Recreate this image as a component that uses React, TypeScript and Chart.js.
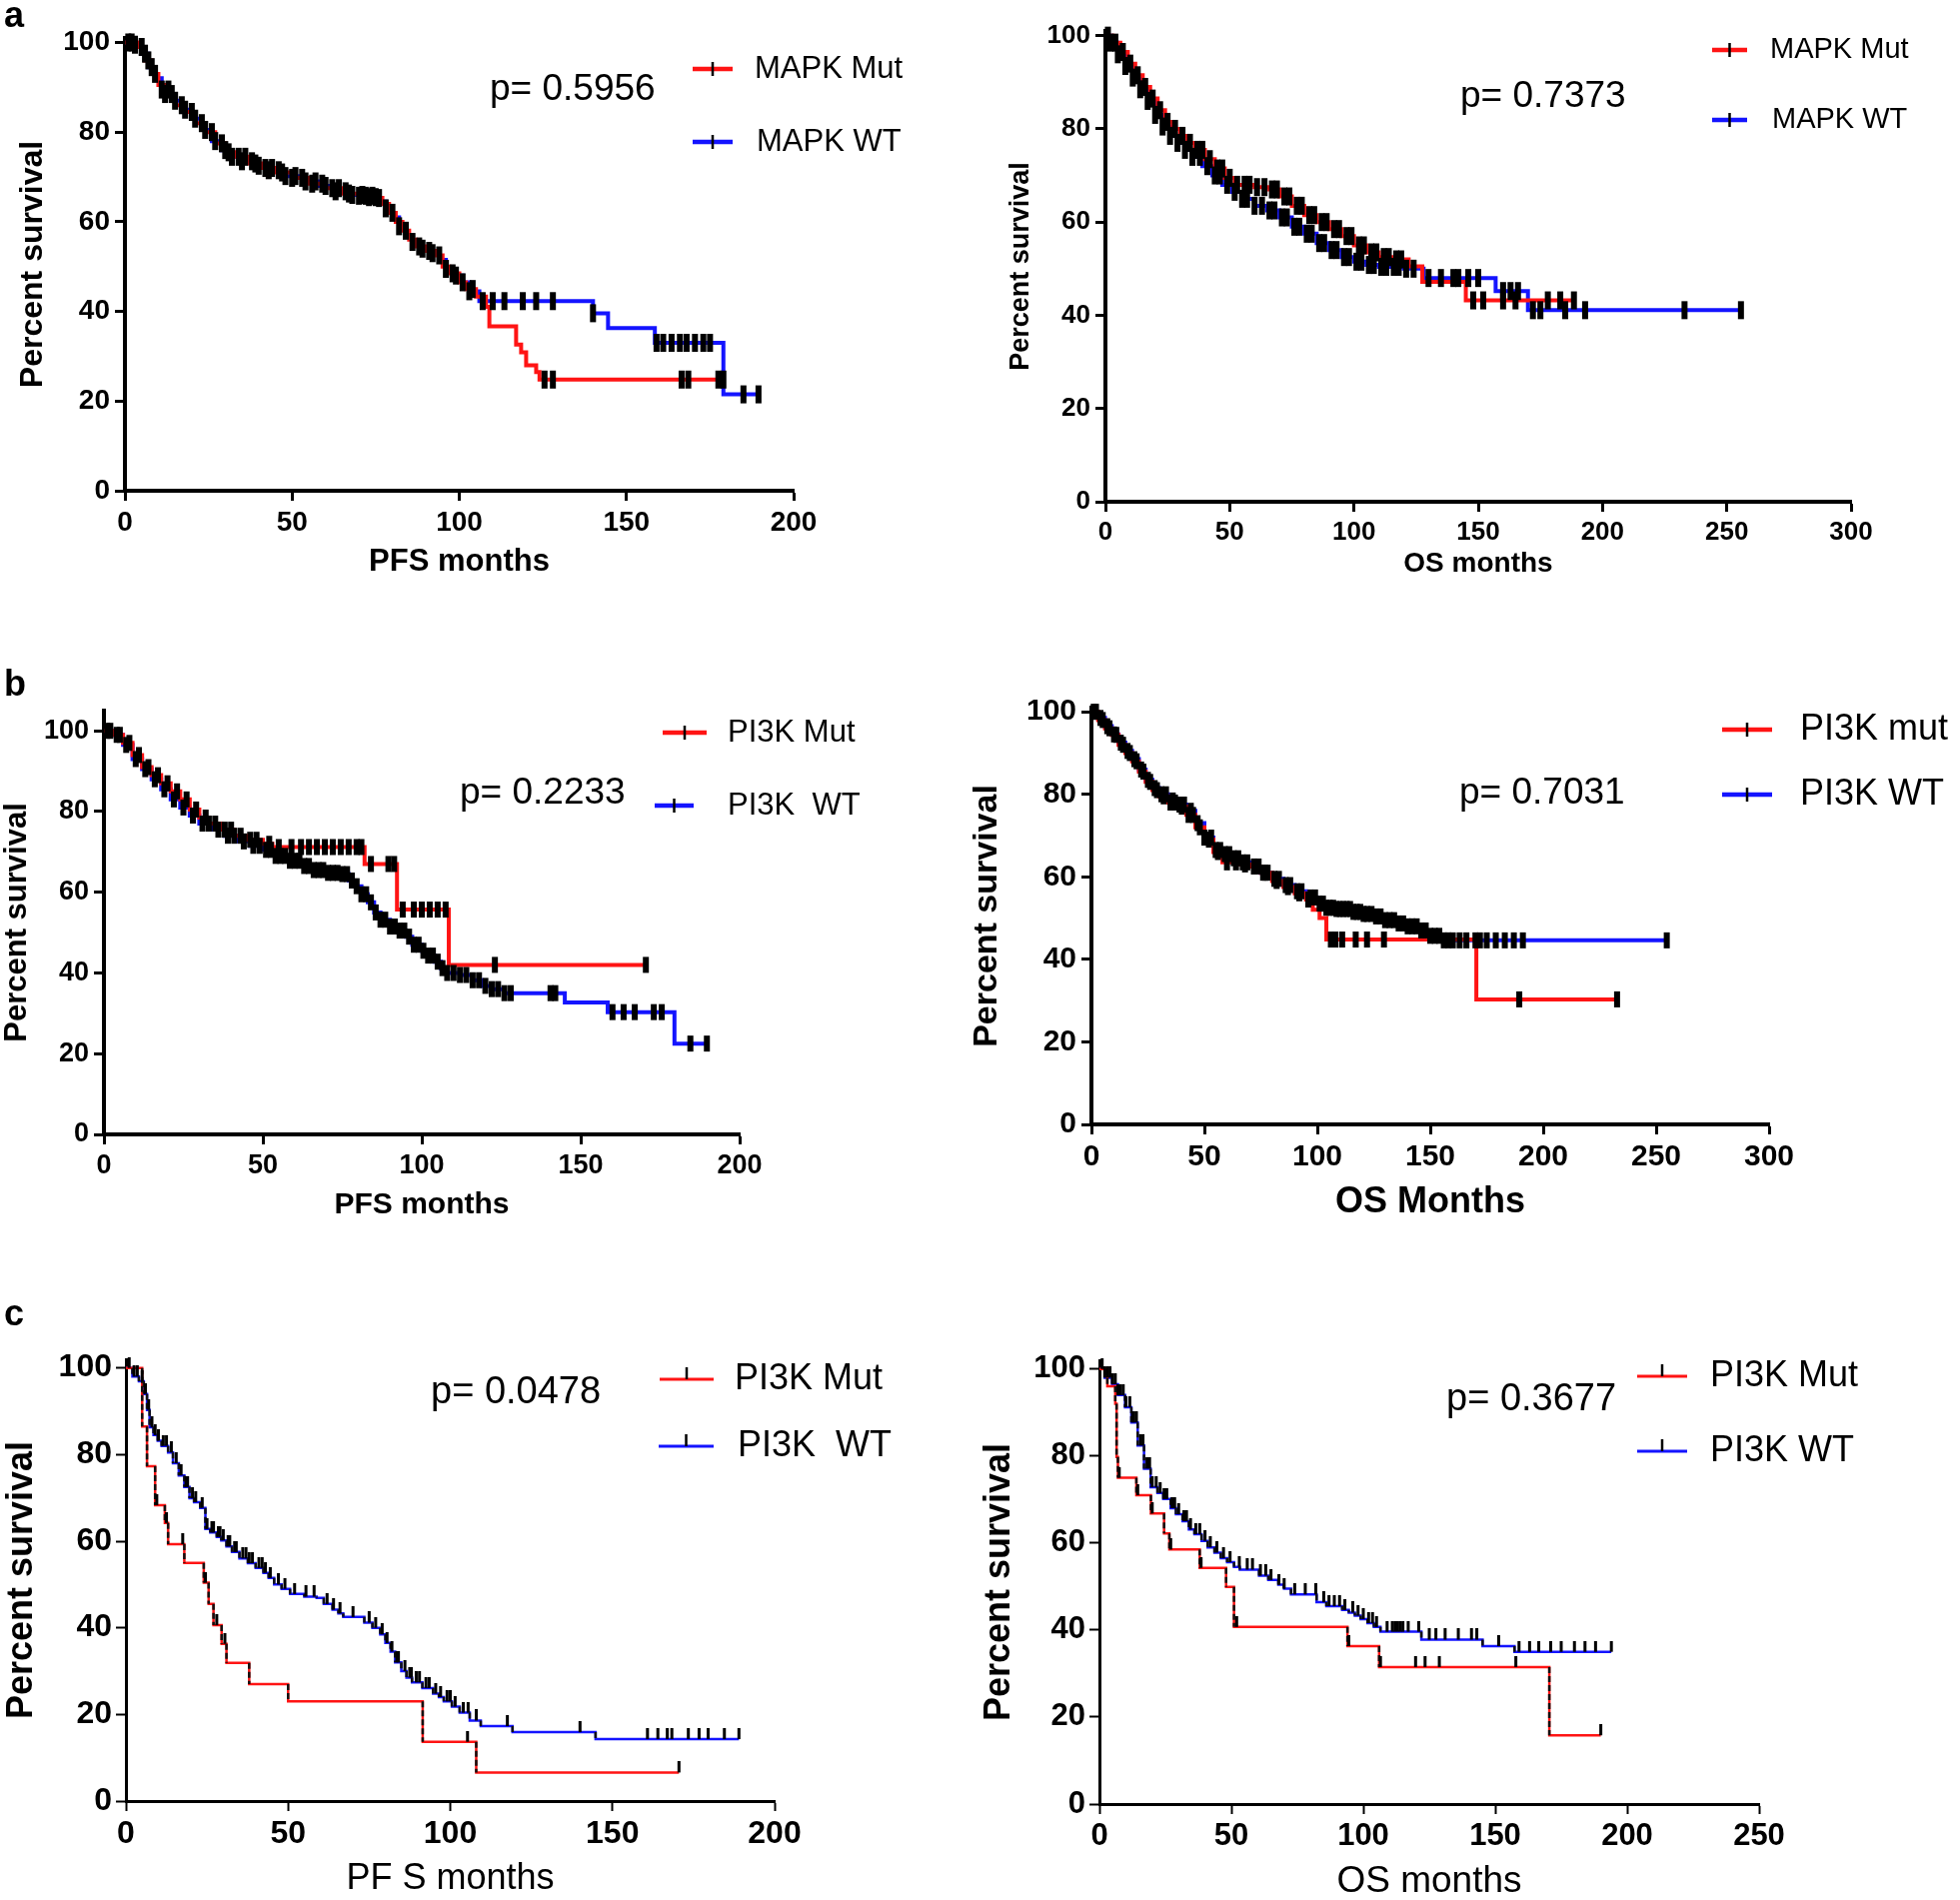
import React, { useEffect, useRef } from "react";
import { Chart, registerables } from "chart.js";

Chart.register(...registerables);

const FONT = "'Liberation Sans', Arial, Helvetica, sans-serif";
const RED = "#ff1414";
const BLUE = "#1414ff";

// ---------------- Panel a (left): MAPK, PFS ----------------
const aPfsMutT = [0, 4, 6, 8, 10, 12, 15, 18, 21, 24, 27, 30, 33, 37, 41, 45, 50, 55, 60, 65, 70, 75, 77, 79, 81, 83, 85, 87, 90, 93, 95, 97, 100, 102, 105, 108, 109, 117, 118.5, 120, 123, 124, 179];
const aPfsMutS = [100, 99, 96, 93, 90.5, 88.5, 86, 84.5, 82, 80, 77.5, 75.5, 74.5, 73, 72, 71, 69.8, 68.5, 67.5, 66.3, 65.8, 65.3, 64, 62, 60, 58, 56, 54.5, 53.5, 52.5, 50, 48.5, 46.5, 45, 43.3, 41, 36.7, 32.6, 30.9, 28, 26.5, 24.8, 24.8];
const aPfsMutC = [2, 5, 7, 9, 12, 14, 17, 20, 23, 26, 29, 31, 34, 36, 39, 42, 44, 47, 50, 53, 56, 59, 62, 64, 67, 70, 72, 74, 76, 80, 84, 88, 91, 94, 98, 101, 104, 125.5, 128, 166.5, 168.5, 177.5, 179];
const aPfsWtT = [0, 3, 5, 7, 9, 11, 14, 17, 20, 23, 26, 29, 32, 35, 39, 43, 48, 53, 58, 63, 68, 73, 76, 78, 80, 82, 84, 86, 88, 91, 94, 96, 98, 101, 103, 106, 140, 144.5, 158.5, 179, 189.5];
const aPfsWtS = [100, 99.5, 97.5, 94.5, 92, 89.5, 87, 85, 83, 80.5, 78, 76, 74.5, 73.5, 72.5, 71.5, 70.2, 69, 68, 66.8, 66, 65.5, 64.5, 63, 61, 59, 57, 55.5, 54, 53, 51.5, 49.5, 48, 46.5, 44.5, 42.3, 39.6, 36.3, 33, 21.5, 21.5];
const aPfsWtC = [1, 3, 6, 8, 11, 13, 15, 18, 21, 24, 27, 30, 32, 35, 38, 40, 43, 46, 48, 51, 54, 57, 60, 63, 66, 68, 71, 73, 75, 78, 82, 86, 89, 92, 96, 99, 103, 107, 110, 113.5, 119, 123, 128, 140, 159, 161, 163.5, 166, 168, 170.5, 173, 175, 185, 189.5];

// ---------------- Panel a (right): MAPK, OS ----------------
const aOsMutT = [0, 3, 6, 9, 12, 15, 18, 21, 24, 27, 30, 33, 36, 40, 44, 48, 52, 60, 66, 70, 75, 80, 85, 90, 95, 100, 105, 110, 115, 122, 127.5, 145, 188.5];
const aOsMutS = [100, 98.5, 96.5, 94, 91.5, 89, 86.5, 84, 81.5, 80, 78.5, 77, 75.5, 73.5, 71.5, 69.5, 68, 67.5, 67, 65.5, 63.5, 61.5, 60, 58.5, 57, 55, 53.5, 52.5, 52, 50.5, 47.2, 43.2, 43.2];
const aOsMutC = [1, 4, 7, 10, 13, 16, 19, 22, 25, 28, 31, 34, 37, 39, 42, 45, 47, 50, 53, 56, 58, 61, 64, 67, 69, 72, 74, 77, 79, 82, 84, 87, 89, 92, 94, 97, 99, 102, 104, 107, 109, 112, 114, 117, 119, 148, 152, 160, 165, 178, 183, 188.5];
const aOsWtT = [0, 2, 5, 8, 11, 14, 17, 20, 23, 26, 29, 32, 35, 39, 43, 47, 51, 55, 60, 65, 70, 75, 80, 85, 90, 95, 100, 105, 110, 120, 128, 157, 170, 255.7];
const aOsWtS = [100, 98.5, 96, 93.5, 91, 88.5, 86, 83, 80.5, 78.5, 77, 75.5, 74, 72, 70, 68, 66.5, 65, 63.5, 62.5, 61, 59, 57.5, 55.5, 54, 52.5, 51.5, 50.8, 50.4, 50, 48, 45.2, 41.1, 41.1];
const aOsWtC = [2, 5, 8, 11, 14, 17, 20, 23, 26, 29, 32, 35, 38, 41, 44, 46, 49, 52, 55, 57, 60, 63, 66, 68, 71, 73, 76, 78, 81, 83, 86, 88, 91, 93, 96, 98, 101, 103, 106, 108, 111, 113, 116, 118, 121, 124, 130, 135, 140, 142, 146, 150, 160, 163, 166, 172, 175, 185, 193, 233, 255.7];

// ---------------- Panel b (left): PI3K, PFS ----------------
const bPfsMutT = [0, 3, 6, 9, 12, 15, 18, 21, 24, 27, 30, 33, 37, 41, 45, 50, 53, 82, 92.2, 108.5, 170.5];
const bPfsMutS = [100, 99, 97, 94, 91, 89, 87, 85, 83, 80.5, 78.5, 77, 75.5, 74, 73, 72, 71.2, 67, 55.7, 42, 42];
const bPfsMutC = [2, 5, 8, 11, 14, 17, 20, 23, 26, 29, 32, 35, 38, 40, 43, 46, 48, 52, 55, 59, 62, 64.5, 67, 69.5, 72, 74.5, 77, 79.5, 81, 84, 89.5, 91.3, 94, 97.5, 100, 102.5, 105, 107.5, 123, 170.5];
const bPfsWtT = [0, 3, 6, 9, 12, 15, 18, 21, 24, 27, 30, 34, 38, 42, 46, 50, 54, 58, 62, 66, 70, 74, 77, 79, 81, 83, 85, 87, 90, 92, 95, 97, 100, 102, 104, 106, 108, 112, 116, 119, 122, 126, 145, 158.5, 179.5, 189.7];
const bPfsWtS = [100, 99, 96.5, 93, 90.5, 88, 85.5, 83, 81, 79, 77, 75.5, 74, 72.6, 71.5, 70.5, 69, 67.8, 66.5, 65.5, 64.8, 64.5, 62.9, 61.5, 59.5, 57.5, 55, 53.2, 51.5, 50.5, 49, 47, 45.5, 44.3, 42.8, 41.2, 40, 39.5, 38.2, 36.8, 36, 35, 32.7, 30.3, 22.5, 22.5];
const bPfsWtC = [1, 4, 7, 10, 13, 16, 19, 22, 25, 28, 31, 33, 36, 39, 41, 44, 47, 49, 51, 52.5, 54, 55.5, 57, 58.5, 60, 61.5, 63, 64.5, 66, 67.5, 69, 70.5, 72, 73.5, 75, 76.5, 78, 79.5, 81, 82.5, 84, 85.5, 87, 88.5, 90, 91.5, 93, 94.5, 96, 97.5, 99, 100.5, 102, 103.5, 105, 106.5, 108, 110, 112, 114, 116, 118, 120, 122, 124, 126, 128, 140.5, 142, 160, 163.5, 167, 173, 175.5, 184.5, 189.7];

// ---------------- Panel b (right): PI3K, OS ----------------
const bOsMutT = [0, 3, 6, 9, 12, 15, 18, 21, 24, 27, 30, 34, 38, 42, 46, 50, 54, 58, 62, 66, 70, 75, 80, 85, 90, 95, 98, 101, 104, 170.4, 232.7];
const bOsMutS = [100, 98, 96, 94.4, 92, 90, 88, 85.5, 83, 81, 79.5, 78, 77, 75, 72, 69, 66, 63.5, 63.5, 63, 62.5, 61, 59, 57.5, 56, 54.5, 52, 50, 44.8, 30.3, 30.3];
const bOsMutC = [2, 5, 8, 11, 14, 17, 20, 23, 26, 29, 32, 35, 37, 40, 43, 45, 48, 52, 56, 60, 64, 68, 72, 77, 82, 87, 92, 96, 106, 108, 111, 117, 122, 129.5, 189.4, 232.7];
const bOsWtT = [0, 3, 6, 9, 12, 15, 18, 21, 24, 27, 30, 34, 38, 42, 46, 50, 54, 58, 62, 66, 70, 75, 80, 85, 90, 95, 100, 104, 108, 115, 120, 125, 130, 135, 140, 145, 150, 155, 254.7];
const bOsWtS = [100, 98.5, 96.5, 94.5, 92.5, 90.5, 88.5, 86, 83.5, 81.5, 80, 78.5, 77.5, 76, 73, 69.5, 66.5, 65.5, 64.5, 63.5, 62.5, 61, 59.5, 58, 56.5, 55, 53.5, 52.5, 52.2, 51.5, 51, 50.4, 49.5, 48.7, 48, 47, 45.7, 44.6, 44.6];
const bOsWtC = [1, 4, 7, 10, 13, 16, 19, 22, 25, 28, 31, 33, 36, 39, 41, 44, 47, 50, 53, 55, 57, 59, 61, 63, 65, 67, 69, 72, 74, 76, 78, 81, 83, 86, 88, 91, 93, 97, 99, 101, 102.5, 104, 105.5, 107, 108.5, 110, 111.5, 113, 114.5, 116, 117.5, 119, 120.5, 122, 124, 126, 128, 130, 132, 134, 136, 138, 140, 142, 144, 146, 148, 150, 152, 154, 156, 158, 160, 163, 166, 170, 172, 175, 179, 183, 187, 191, 254.7];

// ---------------- Panel c (left): PI3K, PFS ----------------
const cPfsMutT = [0, 5, 6.5, 9, 12, 13, 18, 24, 25.5, 27, 29.5, 31, 38, 50, 91.5, 108, 170.5];
const cPfsMutS = [100, 86.5, 77.3, 68.3, 64.2, 59.3, 55, 50.4, 45.5, 40.6, 36.3, 31.9, 27, 23, 13.7, 6.6, 6.6];
const cPfsMutC = [9.5, 12.5, 17.5, 24.5, 28, 30.5, 105.3, 170.5];
const cPfsWtT = [0, 2, 4, 5.5, 6.5, 7.3, 8.5, 9.8, 11, 13, 14.5, 16.3, 18, 19.6, 21, 22.9, 24.5, 26, 28, 29.4, 31, 32.7, 35, 37.6, 40, 42.4, 44, 45.7, 48, 50.6, 55, 58.8, 61, 63.7, 65.5, 67, 73.5, 76, 78.4, 80, 81.6, 83, 84.9, 86.5, 88.2, 91.4, 94.7, 96.5, 98, 100.5, 102.9, 106, 109.4, 119.2, 144.8, 189];
const cPfsWtS = [100, 98, 96.9, 94, 90.3, 86.3, 84.5, 83.2, 82, 80.5, 78, 75.2, 72.5, 69.9, 69, 67.7, 62.8, 62, 61, 60.2, 58.8, 57.5, 56, 54.9, 53.8, 52.7, 51.5, 50, 49, 47.8, 47.2, 46.9, 45.5, 44.2, 43.3, 42.5, 41.2, 40, 38.5, 36.5, 34.5, 32, 30, 28.5, 27.4, 26.1, 24.8, 24, 23, 21.8, 20.4, 18.6, 17.3, 15.9, 14.3, 14.3];
const cPfsWtC = [1, 2.5, 3.5, 5, 6, 7, 8, 9, 10, 11.5, 12.5, 14, 15.5, 17, 18.5, 19, 20.5, 21.5, 23.5, 25, 26.5, 27, 28.5, 29, 30, 31.5, 32, 33.5, 34, 36, 37, 38, 39, 41, 42, 43, 44.5, 47, 49, 52, 55.5, 58, 62, 64, 66, 70, 75, 77, 79, 80.5, 82, 83.5, 84, 86, 87.5, 88, 89.5, 90.5, 92.5, 93.5, 95.5, 97, 99, 100, 101.5, 104, 105.5, 108, 117.6, 140, 160.8, 164, 166.9, 168.3, 173.4, 176.7, 179.5, 184.5, 189];

// ---------------- Panel c (right): PI3K, OS ----------------
const cOsMutT = [0, 3, 6, 6.5, 7, 14, 19.5, 24.5, 26.5, 38, 48, 51, 94, 106, 170.5, 190];
const cOsMutS = [100, 96, 92, 79.8, 75, 71, 66.8, 62.2, 58.5, 54.3, 49.9, 40.7, 36.3, 31.5, 15.8, 15.8];
const cOsMutC = [7.5, 14.5, 20, 27, 38.5, 52, 94.5, 106.5, 119.8, 123.4, 128.8, 157.8, 190];
const cOsWtT = [0, 2, 4.8, 7, 9.7, 12.1, 14.5, 16.9, 19.4, 22, 24.2, 27, 29, 31.5, 33.9, 36, 38.7, 41, 43.6, 46, 48.4, 51, 53.2, 57, 60.5, 64, 67.8, 70, 72.6, 80, 82.3, 86, 92, 94.5, 96.8, 99, 101.6, 104, 106.5, 122, 145.2, 157.3, 194];
const cOsWtS = [100, 98, 96.5, 94, 91.2, 87.7, 82.4, 77.1, 72.8, 71.5, 70.1, 68, 66.6, 65, 63.1, 62, 60.5, 59, 57.8, 56.5, 55.6, 54.5, 53.9, 53.9, 52.5, 51.5, 50.4, 49.5, 48.2, 48.2, 46.4, 45.5, 44.6, 44, 43.3, 42.5, 41.6, 40.7, 39.6, 37.8, 36.3, 35, 35];
const cOsWtC = [1, 2, 3, 4, 5, 6, 7, 8, 9, 10, 11.5, 12.5, 13, 14, 15.5, 16.5, 18, 19, 20, 21.5, 23, 24.5, 25.5, 27.5, 28.5, 30, 32, 33, 34.5, 36.5, 38, 40, 42, 44.5, 47, 49.5, 53, 56, 58, 61, 63, 65, 68, 70, 74, 78, 82, 85, 87, 89, 91, 93, 96, 98, 100, 102, 103.5, 105, 109, 111, 112, 113, 114, 115, 117, 121, 125, 127.5, 131, 136, 141, 143, 151.3, 159, 163, 166.5, 171, 175, 180, 184, 188, 194];

// ---------------- Axis ticks & labels ----------------
const yTicks = [0, 20, 40, 60, 80, 100];
const xTicks200 = [0, 50, 100, 150, 200];
const xTicks250 = [0, 50, 100, 150, 200, 250];
const xTicks300 = [0, 50, 100, 150, 200, 250, 300];
const yTitle = "Percent survival";

type Series = { t: number[]; s: number[]; c: number[]; label: string };
type LegendPos = { x1: number; x2: number; y: number; tx: number };
type PanelDef = {
  id: string;
  left: number; top: number; width: number; height: number;
  padTop: number; padRight: number; yAxisW: number; xAxisH: number;
  xMax: number; yMax: number; xTicks: number[];
  tickSize: number; tickPad: number;
  xTitle: string; xTitleSize: number; xTitleWeight: string; yTitleSize: number;
  lineW: number; axisW: number; censorUp: boolean; censorW: number; censorR: number;
  mut: Series; wt: Series;
  pText: string; pX: number; pY: number; pSize: number;
  legMut: LegendPos; legWt: LegendPos; legSize: number;
};

const panels: PanelDef[] = [
  {
    id: "aL", left: 17, top: 0, width: 913, height: 578,
    padTop: 38, padRight: 136, yAxisW: 108, xAxisH: 87,
    xMax: 200, yMax: 101, xTicks: xTicks200, tickSize: 28, tickPad: 5,
    xTitle: "PFS months", xTitleSize: 31, xTitleWeight: "bold", yTitleSize: 32,
    lineW: 4, axisW: 4, censorUp: false, censorW: 6, censorR: 9,
    mut: { t: aPfsMutT, s: aPfsMutS, c: aPfsMutC, label: "MAPK Mut" },
    wt: { t: aPfsWtT, s: aPfsWtS, c: aPfsWtC, label: "MAPK WT" },
    pText: "p= 0.5956", pX: 490, pY: 90, pSize: 37,
    legMut: { x1: 693, x2: 733, y: 69, tx: 755 }, legWt: { x1: 693, x2: 733, y: 142, tx: 757 }, legSize: 31,
  },
  {
    id: "aR", left: 1008, top: 0, width: 953, height: 578,
    padTop: 31, padRight: 109, yAxisW: 98, xAxisH: 76,
    xMax: 300, yMax: 101, xTicks: xTicks300, tickSize: 26, tickPad: 5,
    xTitle: "OS months", xTitleSize: 28, xTitleWeight: "bold", yTitleSize: 27,
    lineW: 4, axisW: 4, censorUp: false, censorW: 6, censorR: 9,
    mut: { t: aOsMutT, s: aOsMutS, c: aOsMutC, label: "MAPK Mut" },
    wt: { t: aOsWtT, s: aOsWtS, c: aOsWtC, label: "MAPK WT" },
    pText: "p= 0.7373", pX: 1461, pY: 97, pSize: 37,
    legMut: { x1: 1713, x2: 1748, y: 50, tx: 1771 }, legWt: { x1: 1713, x2: 1748, y: 120, tx: 1773 }, legSize: 29,
  },
  {
    id: "bL", left: 2, top: 640, width: 898, height: 581,
    padTop: 71, padRight: 160, yAxisW: 102, xAxisH: 86,
    xMax: 200, yMax: 105, xTicks: xTicks200, tickSize: 27, tickPad: 5,
    xTitle: "PFS months", xTitleSize: 30, xTitleWeight: "bold", yTitleSize: 31,
    lineW: 4, axisW: 4, censorUp: false, censorW: 6, censorR: 8,
    mut: { t: bPfsMutT, s: bPfsMutS, c: bPfsMutC, label: "PI3K Mut" },
    wt: { t: bPfsWtT, s: bPfsWtS, c: bPfsWtC, label: "PI3K  WT" },
    pText: "p= 0.2233", pX: 460, pY: 794, pSize: 37,
    legMut: { x1: 663, x2: 707, y: 733, tx: 728 }, legWt: { x1: 655, x2: 694, y: 806, tx: 728 }, legSize: 31,
  },
  {
    id: "bR", left: 971, top: 640, width: 990, height: 581,
    padTop: 68, padRight: 191, yAxisW: 121, xAxisH: 96,
    xMax: 300, yMax: 101, xTicks: xTicks300, tickSize: 30, tickPad: 5,
    xTitle: "OS Months", xTitleSize: 36, xTitleWeight: "bold", yTitleSize: 34,
    lineW: 4, axisW: 4, censorUp: false, censorW: 6, censorR: 8,
    mut: { t: bOsMutT, s: bOsMutS, c: bOsMutC, label: "PI3K mut" },
    wt: { t: bOsWtT, s: bOsWtS, c: bOsWtC, label: "PI3K WT" },
    pText: "p= 0.7031", pX: 1460, pY: 794, pSize: 37,
    legMut: { x1: 1723, x2: 1773, y: 730, tx: 1801 }, legWt: { x1: 1723, x2: 1773, y: 795, tx: 1801 }, legSize: 36,
  },
  {
    id: "cL", left: 4, top: 1290, width: 926, height: 608,
    padTop: 70, padRight: 155, yAxisW: 122, xAxisH: 96,
    xMax: 200, yMax: 102, xTicks: xTicks200, tickSize: 32, tickPad: 4,
    xTitle: "PF S months", xTitleSize: 36, xTitleWeight: "normal", yTitleSize: 36,
    lineW: 2.5, axisW: 3, censorUp: true, censorW: 3, censorR: 6,
    mut: { t: cPfsMutT, s: cPfsMutS, c: cPfsMutC, label: "PI3K Mut" },
    wt: { t: cPfsWtT, s: cPfsWtS, c: cPfsWtC, label: "PI3K  WT" },
    pText: "p= 0.0478", pX: 431, pY: 1394, pSize: 38,
    legMut: { x1: 660, x2: 714, y: 1380, tx: 735 }, legWt: { x1: 659, x2: 714, y: 1447, tx: 738 }, legSize: 36,
  },
  {
    id: "cR", left: 982, top: 1290, width: 979, height: 611,
    padTop: 71, padRight: 201, yAxisW: 118, xAxisH: 96,
    xMax: 250, yMax: 102, xTicks: xTicks250, tickSize: 31, tickPad: 4,
    xTitle: "OS months", xTitleSize: 37, xTitleWeight: "normal", yTitleSize: 36,
    lineW: 2.5, axisW: 3, censorUp: true, censorW: 3, censorR: 6,
    mut: { t: cOsMutT, s: cOsMutS, c: cOsMutC, label: "PI3K Mut" },
    wt: { t: cOsWtT, s: cOsWtS, c: cOsWtC, label: "PI3K WT" },
    pText: "p= 0.3677", pX: 1447, pY: 1401, pSize: 38,
    legMut: { x1: 1638, x2: 1688, y: 1377, tx: 1711 }, legWt: { x1: 1638, x2: 1688, y: 1452, tx: 1711 }, legSize: 36,
  },
];

function survAt(t: number[], s: number[], x: number): number {
  let v = s[0];
  for (let i = 0; i < t.length; i++) {
    if (t[i] <= x) v = s[i];
    else break;
  }
  return v;
}

function upTickImage(len: number, w: number): HTMLCanvasElement {
  const c = document.createElement("canvas");
  c.width = Math.ceil(w) + 2;
  c.height = len * 2;
  const g = c.getContext("2d")!;
  g.strokeStyle = "#000";
  g.lineWidth = w;
  g.beginPath();
  g.moveTo(c.width / 2, 0);
  g.lineTo(c.width / 2, len);
  g.stroke();
  return c;
}

function decorPlugin(p: PanelDef) {
  return {
    id: "decor_" + p.id,
    afterDatasetsDraw(chart: any) {
      const ctx: CanvasRenderingContext2D = chart.ctx;
      const ox = p.left;
      const oy = p.top;
      ctx.save();
      ctx.fillStyle = "#000";
      ctx.textBaseline = "middle";
      ctx.textAlign = "left";
      ctx.font = `${p.pSize}px ${FONT}`;
      ctx.fillText(p.pText, p.pX - ox, p.pY - oy);
      const items: [LegendPos, string, string][] = [
        [p.legMut, RED, p.mut.label],
        [p.legWt, BLUE, p.wt.label],
      ];
      for (const [pos, color, label] of items) {
        ctx.strokeStyle = color;
        ctx.lineWidth = p.lineW + 0.5;
        ctx.beginPath();
        ctx.moveTo(pos.x1 - ox, pos.y - oy);
        ctx.lineTo(pos.x2 - ox, pos.y - oy);
        ctx.stroke();
        const mx = (pos.x1 + pos.x2) / 2 - ox;
        ctx.strokeStyle = "#000";
        ctx.lineWidth = 2.5;
        ctx.beginPath();
        if (p.censorUp) {
          ctx.moveTo(mx, pos.y - oy);
          ctx.lineTo(mx, pos.y - oy - 12);
        } else {
          ctx.moveTo(mx, pos.y - oy - 7);
          ctx.lineTo(mx, pos.y - oy + 7);
        }
        ctx.stroke();
        ctx.font = `${p.legSize}px ${FONT}`;
        ctx.fillText(label, pos.tx - ox, pos.y - oy);
      }
      ctx.restore();
    },
  };
}

function buildConfig(p: PanelDef): any {
  const curve = (sr: Series) => sr.t.map((x, i) => ({ x, y: sr.s[i] }));
  const cens = (sr: Series) => sr.c.map((x) => ({ x, y: survAt(sr.t, sr.s, x) }));
  // vertical drops of the step curve (drawn dark in panel c, as in the original)
  const risers = (sr: Series) => {
    const out: { x: number; y: number | null }[] = [];
    for (let i = 1; i < sr.t.length; i++) {
      if (sr.s[i] !== sr.s[i - 1]) {
        out.push({ x: sr.t[i], y: sr.s[i - 1] }, { x: sr.t[i], y: sr.s[i] }, { x: sr.t[i], y: null });
      }
    }
    return out;
  };
  const tickStyle: any = p.censorUp ? upTickImage(11, p.censorW) : "line";
  const censorOpts = {
    showLine: false,
    pointStyle: tickStyle,
    pointRadius: p.censorR,
    pointHoverRadius: p.censorR,
    pointBorderWidth: p.censorW,
    pointBorderColor: "#000",
    pointBackgroundColor: "#000",
    pointRotation: p.censorUp ? 0 : 90,
    clip: false,
  };
  const lineOpts = {
    stepped: "before",
    pointRadius: 0,
    pointHoverRadius: 0,
    fill: false,
    tension: 0,
    borderWidth: p.lineW,
    clip: false,
  };
  const riserOpts = {
    showLine: true,
    spanGaps: false,
    pointRadius: 0,
    pointHoverRadius: 0,
    fill: false,
    borderColor: "#111",
    borderWidth: p.lineW,
    borderDash: [6, 3],
    clip: false,
  };
  const datasets: any[] = [
    { label: p.mut.label + " (censored)", data: cens(p.mut), order: 0, ...censorOpts },
    { label: p.wt.label + " (censored)", data: cens(p.wt), order: 1, ...censorOpts },
    { label: p.mut.label, data: curve(p.mut), borderColor: RED, backgroundColor: RED, order: 4, ...lineOpts },
    { label: p.wt.label, data: curve(p.wt), borderColor: BLUE, backgroundColor: BLUE, order: 5, ...lineOpts },
  ];
  if (p.censorUp) {
    datasets.push({ label: p.mut.label + " (drops)", data: risers(p.mut), order: 2, ...riserOpts });
    datasets.push({ label: p.wt.label + " (drops)", data: risers(p.wt), order: 3, ...riserOpts });
  }
  const axisTitleFont = (size: number, weight: string) => ({ family: FONT, size, weight, lineHeight: 1 });
  return {
    type: "line",
    data: { datasets },
    options: {
      animation: false,
      responsive: false,
      devicePixelRatio: 1,
      events: [],
      layout: { padding: { left: 0, top: p.padTop, right: p.padRight, bottom: 0 } },
      plugins: { legend: { display: false }, tooltip: { enabled: false }, title: { display: false } },
      scales: {
        x: {
          type: "linear",
          min: 0,
          max: p.xMax,
          afterBuildTicks: (s: any) => { s.ticks = p.xTicks.map((v) => ({ value: v })); },
          afterFit: (s: any) => { s.height = p.xAxisH; },
          grid: { display: true, drawOnChartArea: false, drawTicks: true, tickLength: 10, tickWidth: p.axisW - 1, tickColor: "#000" },
          border: { display: true, color: "#000", width: p.axisW },
          ticks: { color: "#000", padding: p.tickPad, autoSkip: false, maxRotation: 0, minRotation: 0, font: { family: FONT, size: p.tickSize, weight: "bold" } },
          title: { display: true, text: p.xTitle, color: "#000", padding: 0, font: axisTitleFont(p.xTitleSize, p.xTitleWeight) },
        },
        y: {
          type: "linear",
          min: 0,
          max: p.yMax,
          afterBuildTicks: (s: any) => { s.ticks = yTicks.map((v) => ({ value: v })); },
          afterFit: (s: any) => { s.width = p.yAxisW; },
          grid: { display: true, drawOnChartArea: false, drawTicks: true, tickLength: 10, tickWidth: p.axisW - 1, tickColor: "#000" },
          border: { display: true, color: "#000", width: p.axisW },
          ticks: { color: "#000", padding: p.tickPad, autoSkip: false, font: { family: FONT, size: p.tickSize, weight: "bold" } },
          title: { display: true, text: yTitle, color: "#000", padding: 0, font: axisTitleFont(p.yTitleSize, "bold") },
        },
      },
    },
    plugins: [decorPlugin(p)],
  };
}

function PanelChart({ p }: { p: PanelDef }) {
  const ref = useRef<HTMLCanvasElement>(null);
  useEffect(() => {
    const canvas = ref.current;
    if (!canvas) return;
    const chart = new Chart(canvas, buildConfig(p));
    return () => chart.destroy();
  }, [p]);
  return (
    <canvas
      ref={ref}
      width={p.width}
      height={p.height}
      style={{ position: "absolute", left: p.left, top: p.top, width: p.width, height: p.height }}
    />
  );
}

const letters = [
  { t: "a", x: 4, y: -3 },
  { t: "b", x: 4, y: 666 },
  { t: "c", x: 4, y: 1296 },
];

export default function App() {
  return (
    <div style={{ position: "absolute", left: 0, top: 0, width: 1961, height: 1901, background: "#fff", overflow: "hidden" }}>
      {panels.map((p) => (
        <PanelChart key={p.id} p={p} />
      ))}
      {letters.map((l) => (
        <div
          key={l.t}
          style={{ position: "absolute", left: l.x, top: l.y, fontFamily: FONT, fontWeight: "bold", fontSize: 36, lineHeight: "36px", color: "#000" }}
        >
          {l.t}
        </div>
      ))}
    </div>
  );
}
